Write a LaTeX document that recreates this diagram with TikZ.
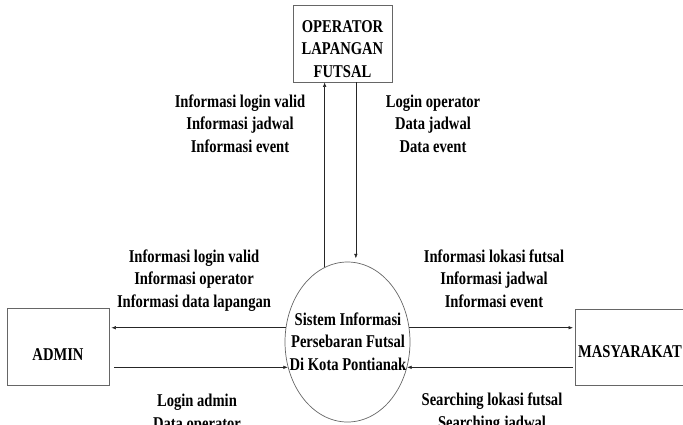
\documentclass[tikz,border=0pt]{standalone}
\usepackage{fontspec}
\setmainfont{Liberation Serif}[FakeStretch=0.81]
\usetikzlibrary{arrows.meta,shapes.geometric}
\begin{document}
\begin{tikzpicture}[x=1pt,y=-1pt,
  every node/.style={font=\fontsize{18}{22.5}\selectfont\bfseries, inner sep=0pt},
  entity/.style={draw=black!60, line width=0.7pt},
  flow/.style={draw=black!85, line width=0.6pt, -{Latex[length=4.5pt,width=3.5pt]}},
  lbl/.style={align=center, anchor=base}]
\useasboundingbox (0,0) rectangle (683,424);
% external entities
\node[entity, minimum width=99, minimum height=77] (op) at (342.5,43.5) {};
\node[entity, minimum width=102, minimum height=77] (admin) at (58,346.5) {};
\node[entity, minimum width=125, minimum height=76, anchor=north west] (mas) at (575,309) {};
% process
\node[entity, ellipse, minimum width=125, minimum height=160] (sys) at (347.5,342) {};
% entity texts (base = baseline of the last line)
\node[lbl] (optxt) at (342.5,77) {OPERATOR\\LAPANGAN\\FUTSAL};
\node[lbl] (admintxt) at (58,360) {ADMIN};
\node[anchor=base west] (mastxt) at (578,357) {MASYARAKAT};
\node[lbl] (systxt) at (348,370) {Sistem Informasi\\Persebaran Futsal\\Di Kota Pontianak};
% flows
\draw[flow] (sys.107) -- (sys.107 |- op.south);
\draw[flow, shorten >=4pt] (sys.84 |- op.south) -- (sys.84);
\draw[flow, shorten >=2pt] (sys.167) -- (sys.167 -| admin.east);
\draw[flow, shorten <=5pt] (sys.203 -| admin.east) -- (sys.203);
\draw[flow, shorten >=2pt] (sys.13) -- (sys.13 -| mas.west);
\draw[flow, shorten <=2pt] (sys.337 -| mas.west) -- (sys.337);
% flow labels
\node[lbl] (l1) at (240,152) {Informasi login valid\\Informasi jadwal\\Informasi event};
\node[lbl] (l2) at (433,152) {Login operator\\Data jadwal\\Data event};
\node[lbl] (l3) at (194,307) {Informasi login valid\\Informasi operator\\Informasi data lapangan};
\node[lbl] (l4) at (494,307) {Informasi lokasi futsal\\Informasi jadwal\\Informasi event};
\node[lbl] (l5) at (197,429) {Login admin\\Data operator};
\node[lbl] (l6) at (492,428) {Searching lokasi futsal\\Searching jadwal};
\end{tikzpicture}
\end{document}
